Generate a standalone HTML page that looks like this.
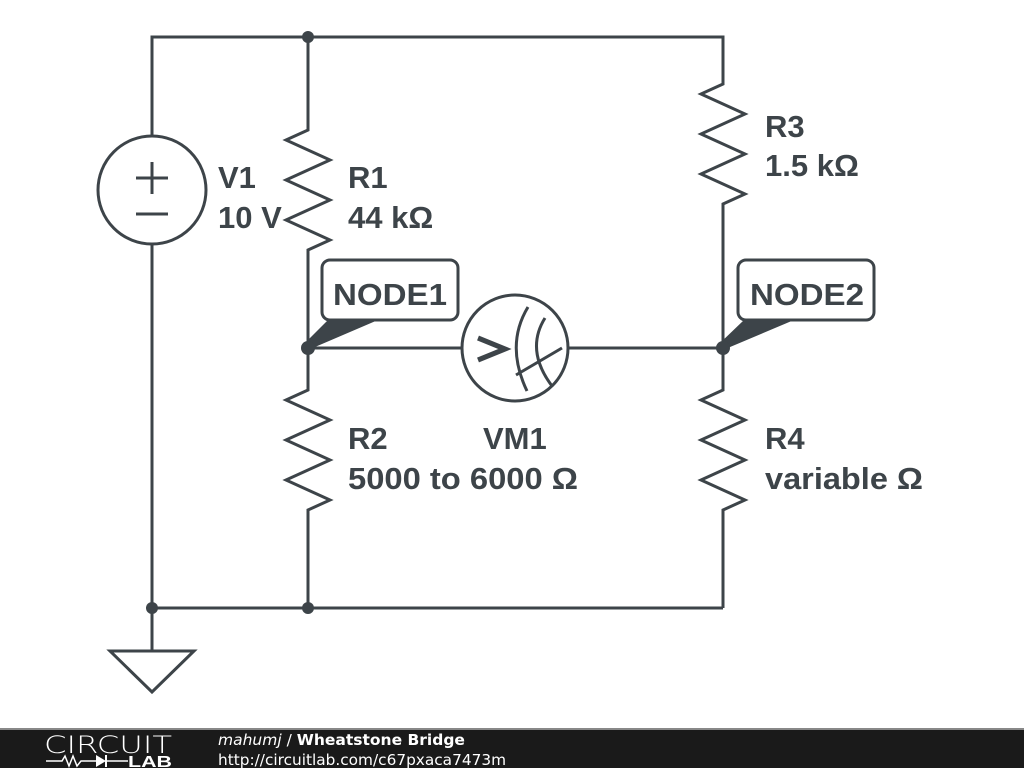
<!DOCTYPE html>
<html><head><meta charset="utf-8"><style>
html,body{margin:0;padding:0;background:#fff;width:1024px;height:768px;overflow:hidden}
svg{display:block}
.t{font-family:"Liberation Sans",Arial,sans-serif;font-weight:bold;font-size:31px;fill:#3d4449}
</style></head><body>
<svg width="1024" height="768" viewBox="0 0 1024 768" xmlns="http://www.w3.org/2000/svg">
<g stroke="#3d4449" stroke-width="3" fill="none" stroke-linejoin="miter">
<polyline points="152,136 152,37 723,37 723,80"/>
<line x1="152" y1="244" x2="152" y2="650"/>
<line x1="152" y1="608" x2="723" y2="608"/>
<polyline points="308,37 308,130 286,140 330,160 286,180 330,200 286,220 330,240 308,250 308,390 286,400 330,420 286,440 330,460 286,480 330,500 308,510 308,608"/>
<polyline points="723,80 723,84 701,94 745,114 701,134 745,154 701,174 745,194 723,204 723,390 701,400 745,420 701,440 745,460 701,480 745,500 723,510 723,608"/>
<line x1="308" y1="348" x2="462" y2="348"/>
<line x1="568" y1="348" x2="723" y2="348"/>
<circle cx="152" cy="190" r="54"/>
<line x1="136" y1="178" x2="168" y2="178"/><line x1="152" y1="162" x2="152" y2="194"/>
<line x1="136" y1="214" x2="168" y2="214"/>
<polygon points="110,651 194,651 152,692"/>
<circle cx="515" cy="348" r="53"/>
<polyline points="478,338 505,349 478,360" stroke-width="5"/>
<path d="M528,307 Q505,345 527,391"/>
<path d="M545,318 Q525,350 552,386"/>
<line x1="516" y1="375" x2="562" y2="348"/>
<rect x="322" y="260" width="136" height="60" rx="8"/>
<rect x="738" y="260" width="136" height="60" rx="8"/>
</g>
<g fill="#3d4449">
<polygon points="328,320 378,320 308,350 304,344"/>
<polygon points="744,320 794,320 723,350 719,344"/>
<circle cx="308" cy="37" r="6"/><circle cx="152" cy="608" r="6"/><circle cx="308" cy="608" r="6"/>
<circle cx="308" cy="348" r="7"/><circle cx="723" cy="348" r="7"/>
</g>
<text class="t" x="333" y="305" font-size="32" textLength="114" lengthAdjust="spacingAndGlyphs">NODE1</text>
<text class="t" x="750" y="305" font-size="32" textLength="114" lengthAdjust="spacingAndGlyphs">NODE2</text>
<text class="t" x="218" y="188">V1</text><text class="t" x="218" y="228">10 V</text>
<text class="t" x="348" y="188">R1</text><text class="t" x="348" y="228">44 kΩ</text>
<text class="t" x="765" y="137">R3</text><text class="t" x="765" y="176">1.5 kΩ</text>
<text class="t" x="348" y="449">R2</text><text class="t" x="348" y="489" textLength="230" lengthAdjust="spacingAndGlyphs">5000 to 6000 Ω</text>
<text class="t" x="483" y="449">VM1</text>
<text class="t" x="765" y="449">R4</text><text class="t" x="765" y="489" textLength="158" lengthAdjust="spacingAndGlyphs">variable Ω</text>
<rect x="0" y="728" width="1024" height="2" fill="#888"/>
<rect x="0" y="730" width="1024" height="38" fill="#1a1a1a"/>
<text x="44" y="753" font-family="DejaVu Sans,sans-serif" font-size="24" fill="#fff" font-weight="200" textLength="128" lengthAdjust="spacingAndGlyphs">CIRCUIT</text>
<polyline points="46,761 62,761 65,756 69,766 73,756 77,766 81,761 98,761" stroke="#fff" stroke-width="1.5" fill="none"/>
<polygon points="96,755 96,767 106,761" fill="#fff"/>
<line x1="106" y1="755" x2="106" y2="767" stroke="#fff" stroke-width="2"/>
<line x1="106" y1="761" x2="128" y2="761" stroke="#fff" stroke-width="1.5"/>
<text x="128" y="767" font-family="Liberation Sans,sans-serif" font-size="16" font-weight="bold" fill="#fff" textLength="44" lengthAdjust="spacingAndGlyphs">LAB</text>
<text x="218" y="745" font-family="DejaVu Sans,sans-serif" font-size="15.5" fill="#fff"><tspan font-style="italic">mahumj</tspan> / <tspan font-weight="bold">Wheatstone Bridge</tspan></text>
<text x="218" y="765" font-family="DejaVu Sans,sans-serif" font-size="15.5" fill="#fff" textLength="288" lengthAdjust="spacingAndGlyphs">http://circuitlab.com/c67pxaca7473m</text>
</svg>
</body></html>
